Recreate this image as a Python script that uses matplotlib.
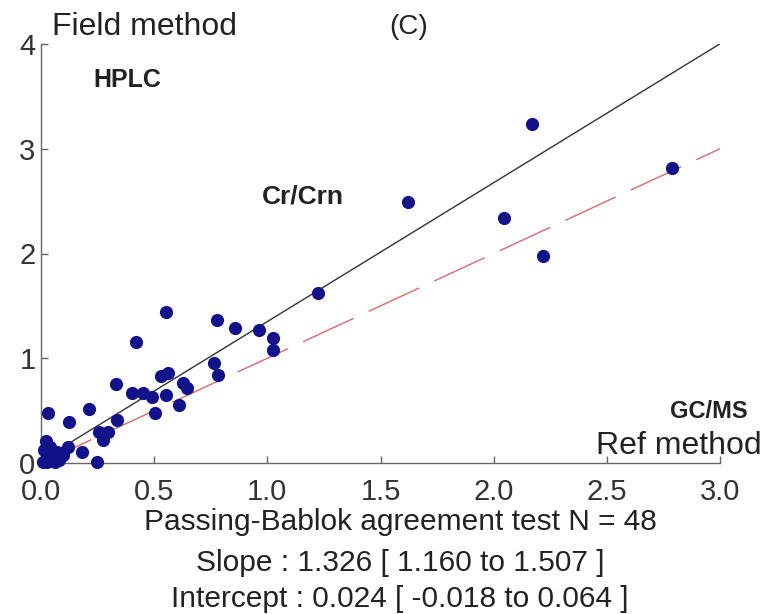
import matplotlib
matplotlib.use("Agg")
import matplotlib.pyplot as plt
import numpy as np

plt.rcParams['font.family'] = ['Liberation Sans', 'DejaVu Sans']

# Reference method (GC/MS) values
ref_x = [2.787, 2.168, 2.047, 2.217, 1.623, 1.223,
         0.551, 0.779, 0.859, 0.962, 1.024, 1.024, 0.418, 0.766, 0.784,
         0.532, 0.563, 0.331, 0.401, 0.452, 0.489, 0.551, 0.629, 0.644,
         0.610, 0.504, 0.213, 0.032, 0.124, 0.337, 0.255, 0.298, 0.275,
         0.180, 0.246, 0.022, 0.121, 0.040, 0.069, 0.099, 0.025, 0.025,
         0.062, 0.010, 0.050, 0.080, 0.015, 0.035]
# Field method (HPLC) values
field_y = [2.813, 3.236, 2.336, 1.976, 2.495, 1.626,
           1.444, 1.365, 1.292, 1.270, 1.196, 1.079, 1.158, 0.952, 0.840,
           0.831, 0.862, 0.751, 0.671, 0.665, 0.627, 0.649, 0.761, 0.713,
           0.554, 0.474, 0.513, 0.474, 0.394, 0.410, 0.299, 0.299, 0.220,
           0.108, 0.010, 0.210, 0.156, 0.156, 0.108, 0.076, 0.076, 0.005,
           0.005, 0.005, 0.050, 0.030, 0.120, 0.030]

slope = 1.326
intercept = 0.024
line_x = [0.0, 3.0]

x_ticks = [0.0, 0.5, 1.0, 1.5, 2.0, 2.5, 3.0]
x_tick_labels = ["0.0", "0.5", "1.0", "1.5", "2.0", "2.5", "3.0"]
y_ticks = [0, 1, 2, 3, 4]
y_tick_labels = ["0", "1", "2", "3", "4"]

fig = plt.figure(figsize=(7.65, 6.14), dpi=100)
ax = fig.add_axes([41/765, 1-463/614, (720-41)/765, (463-44)/614])

lx = np.array(line_x)
ax.plot(lx, intercept + slope*lx, color='#333333', lw=1.0, zorder=2)
ax.plot(lx, lx, color='#d86a6a', lw=1.0, dashes=(40, 12), zorder=2)
ax.plot(ref_x, field_y, 'o', color='#12128a', markersize=9.5, markeredgewidth=0,
        clip_on=False, zorder=3)

ax.set_xlim(0, 3)
ax.set_ylim(0, 4)
ax.set_xticks(x_ticks)
ax.set_xticklabels(x_tick_labels)
ax.set_yticks(y_ticks)
ax.set_yticklabels(y_tick_labels)
for s in ['top', 'right']:
    ax.spines[s].set_visible(False)
for s in ['left', 'bottom']:
    ax.spines[s].set_color('#666666')
    ax.spines[s].set_linewidth(1.0)
ax.tick_params(axis='both', direction='in', length=5, width=1.0, color='#666666',
               labelsize=21, labelcolor='#333333')
ax.tick_params(axis='x', pad=11)
ax.tick_params(axis='y', pad=4)

fig.text(52/765, 1-27/614, "Field method", fontsize=23, color='#222222', ha='left', va='center')
fig.text(409/765, 1-27/614, "(C)", fontsize=20, color='#222222', ha='center', va='center')
fig.text(93/765, 1-80/614, "HPLC", fontsize=18, fontweight='bold', color='#222222', ha='left', va='center')
fig.text(262/765, 1-197/614, "Cr/Crn", fontsize=19, fontweight='bold', color='#222222', ha='left', va='center')
fig.text(748/765, 1-411/614, "GC/MS", fontsize=17, fontweight='bold', color='#222222', ha='right', va='center')
fig.text(762/765, 1-446/614, "Ref method", fontsize=23, color='#222222', ha='right', va='center')

fig.text(400/765, 1-522/614, "Passing-Bablok agreement test N = 48", fontsize=21.5, color='#222222', ha='center', va='center')
fig.text(400/765, 1-563/614, "Slope : 1.326 [ 1.160 to 1.507 ]", fontsize=21.5, color='#222222', ha='center', va='center')
fig.text(400/765, 1-599/614, "Intercept : 0.024 [ -0.018 to 0.064 ]", fontsize=21.5, color='#222222', ha='center', va='center')

fig.savefig("out.png", dpi=100)
